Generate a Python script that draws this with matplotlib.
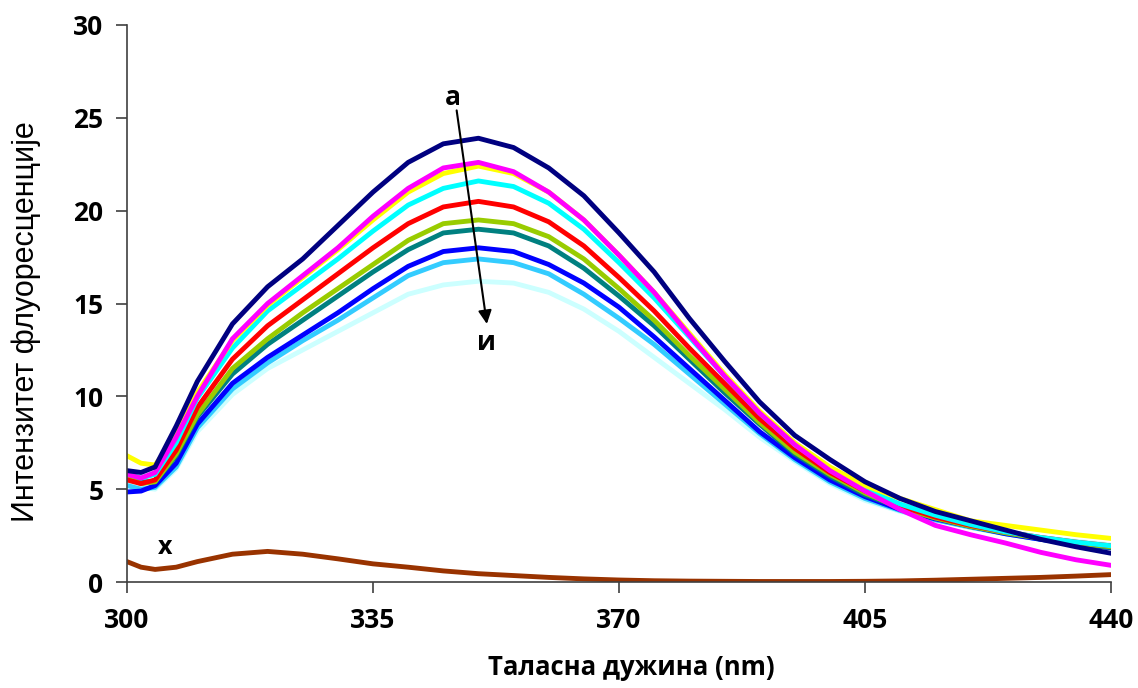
import matplotlib.pyplot as plt

wl = [300, 302, 304, 307, 310, 315, 320, 325, 330, 335, 340, 345, 350, 355, 360,
      365, 370, 375, 380, 385, 390, 395, 400, 405, 410, 415, 420, 425, 430, 435, 440]

a_navy = [6.0, 5.9, 6.2, 8.4, 10.8, 13.9, 15.9, 17.4, 19.2, 21.0, 22.6, 23.6, 23.9, 23.4, 22.3,
          20.8, 18.8, 16.7, 14.2, 11.9, 9.7, 7.9, 6.6, 5.4, 4.5, 3.8, 3.3, 2.8, 2.3, 1.9, 1.55]
b_magenta = [5.8, 5.6, 5.9, 7.8, 10.0, 13.1, 15.0, 16.5, 18.0, 19.7, 21.2, 22.3, 22.6, 22.1, 21.0,
             19.5, 17.6, 15.6, 13.3, 11.1, 9.1, 7.4, 6.0, 4.9, 3.9, 3.05, 2.55, 2.1, 1.6, 1.2, 0.9]
v_yellow = [6.8, 6.4, 6.3, 7.9, 10.2, 13.0, 14.9, 16.4, 17.9, 19.5, 21.0, 22.0, 22.4, 22.0, 21.0,
            19.5, 17.6, 15.6, 13.4, 11.2, 9.2, 7.5, 6.2, 5.2, 4.5, 3.9, 3.3, 3.05, 2.8, 2.55, 2.35]
g_cyan = [5.85, 5.6, 5.8, 7.5, 9.9, 12.6, 14.6, 16.0, 17.4, 18.9, 20.3, 21.2, 21.6, 21.3, 20.4,
          19.0, 17.2, 15.3, 13.2, 11.1, 9.1, 7.4, 6.1, 5.0, 4.2, 3.6, 3.1, 2.7, 2.4, 2.15, 1.95]
d_red = [5.5, 5.3, 5.5, 7.1, 9.4, 12.0, 13.8, 15.2, 16.6, 18.0, 19.3, 20.2, 20.5, 20.2, 19.4,
         18.1, 16.4, 14.6, 12.6, 10.7, 8.8, 7.2, 5.9, 4.9, 4.1, 3.5, 3.05, 2.7, 2.4, 2.15, 1.95]
dj_green = [5.6, 5.3, 5.4, 6.9, 9.0, 11.5, 13.1, 14.5, 15.8, 17.1, 18.4, 19.3, 19.5, 19.3, 18.6,
            17.4, 15.8, 14.1, 12.2, 10.4, 8.6, 7.0, 5.8, 4.8, 4.0, 3.45, 3.0, 2.65, 2.35, 2.1, 1.9]
e_teal = [5.6, 5.4, 5.4, 6.8, 8.9, 11.2, 12.8, 14.1, 15.4, 16.7, 17.9, 18.8, 19.0, 18.8, 18.1,
          16.9, 15.4, 13.8, 12.0, 10.2, 8.5, 6.9, 5.7, 4.7, 4.0, 3.45, 3.0, 2.65, 2.35, 2.1, 1.85]
zh_blue = [4.85, 4.9, 5.2, 6.4, 8.5, 10.7, 12.1, 13.3, 14.5, 15.8, 17.0, 17.8, 18.0, 17.8, 17.1,
           16.1, 14.8, 13.2, 11.5, 9.8, 8.1, 6.7, 5.5, 4.6, 3.9, 3.4, 3.0, 2.6, 2.3, 2.05, 1.85]
z_sky = [5.2, 5.0, 5.1, 6.2, 8.3, 10.4, 11.8, 13.0, 14.1, 15.3, 16.5, 17.2, 17.4, 17.2, 16.6,
         15.5, 14.2, 12.8, 11.2, 9.6, 8.0, 6.6, 5.4, 4.5, 3.85, 3.35, 2.95, 2.6, 2.3, 2.05, 1.85]
i_pale = [5.3, 5.1, 5.0, 6.1, 8.1, 10.1, 11.5, 12.5, 13.5, 14.5, 15.5, 16.0, 16.2, 16.1, 15.6,
          14.7, 13.5, 12.1, 10.7, 9.3, 7.8, 6.5, 5.3, 4.4, 3.8, 3.35, 3.0, 2.65, 2.4, 2.2, 2.0]
x_brown = [1.1, 0.8, 0.68, 0.8, 1.1, 1.5, 1.65, 1.5, 1.25, 0.98, 0.8, 0.6, 0.45, 0.35, 0.25,
           0.17, 0.11, 0.07, 0.05, 0.04, 0.03, 0.03, 0.03, 0.04, 0.06, 0.1, 0.15, 0.2, 0.25, 0.32, 0.4]

series = [
    (i_pale, '#CCFFFF'),
    (z_sky, '#33CCFF'),
    (zh_blue, '#0000FF'),
    (e_teal, '#008080'),
    (dj_green, '#99CC00'),
    (d_red, '#FF0000'),
    (g_cyan, '#00FFFF'),
    (v_yellow, '#FFFF00'),
    (b_magenta, '#FF00FF'),
    (a_navy, '#000080'),
]

fig = plt.figure(figsize=(11.38, 6.88), dpi=100)
ax = fig.add_axes([0.1116, 0.154, 0.8647, 0.8097])

for vals, col in series:
    ax.plot(wl, vals, color=col, lw=3.5, solid_joinstyle='round')
ax.plot(wl, x_brown, color='#993300', lw=3.5, solid_joinstyle='round')

ax.set_xlim(300, 440)
ax.set_ylim(0, 30)
ax.set_xticks([300, 335, 370, 405, 440])
ax.set_yticks([0, 5, 10, 15, 20, 25, 30])
ax.spines['top'].set_visible(False)
ax.spines['right'].set_visible(False)
for s in ['left', 'bottom']:
    ax.spines[s].set_color('#404040')
    ax.spines[s].set_linewidth(1.2)
ax.tick_params(direction='out', length=8, width=1.2, color='#404040', labelsize=19)
ax.tick_params(axis='y', pad=9)
ax.tick_params(axis='x', pad=10)
for lab in ax.get_xticklabels() + ax.get_yticklabels():
    lab.set_fontweight('bold')
    lab.set_family('Open Sans')

ax.set_xlabel('Таласна дужина (nm)', fontsize=18.5, fontweight='bold',
              family='Open Sans')
ax.xaxis.set_label_coords(0.512, -0.13)
ax.set_ylabel('Интензитет флуоресценције', fontsize=22,
              family=['Liberation Sans', 'DejaVu Sans'])
ax.yaxis.set_label_coords(-0.087, 0.467)

ax.annotate('', xy=(351.2, 13.9), xytext=(346.9, 25.4),
            arrowprops=dict(arrowstyle='-|>', color='black', lw=1.5,
                            mutation_scale=20, shrinkA=0, shrinkB=0))
ax.text(346.4, 26.1, 'а', fontsize=19, fontweight='bold', family='Open Sans',
        ha='center', va='center')
ax.text(351.2, 12.9, 'и', fontsize=19, fontweight='bold', family='Open Sans',
        ha='center', va='center')
ax.text(305.4, 1.85, 'x', fontsize=18, fontweight='bold', family='Open Sans',
        ha='center', va='center')

fig.savefig('out.png', dpi=100)
